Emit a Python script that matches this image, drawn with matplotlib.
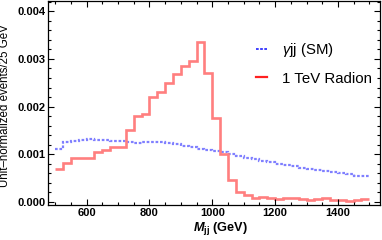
import numpy as np
import matplotlib.pyplot as plt
from matplotlib.lines import Line2D
from matplotlib.ticker import MultipleLocator, FormatStrFormatter

plt.rcParams['font.family'] = ['Liberation Sans', 'DejaVu Sans']
plt.rcParams['mathtext.fontset'] = 'custom'
plt.rcParams['mathtext.rm'] = 'Liberation Sans'
plt.rcParams['mathtext.it'] = 'Liberation Sans:italic'
plt.rcParams['mathtext.bf'] = 'Liberation Sans:bold'
plt.rcParams['mathtext.bfit'] = 'Liberation Sans:italic:bold'

# bin edges, 25 GeV bins from 500 to 1500
edges = np.arange(500, 1501, 25)

# gamma jj (SM) background
sm_vals = [0.00112, 0.00126, 0.00128, 0.00131, 0.00132, 0.00131, 0.00130, 0.00128,
           0.00128, 0.00125, 0.00124, 0.00126, 0.00126, 0.00125, 0.00123, 0.00121,
           0.00118, 0.00115, 0.00112, 0.00110, 0.00107, 0.00104, 0.00100, 0.00097,
           0.00093, 0.00090, 0.00085, 0.00083, 0.00080, 0.00077, 0.00075, 0.00072,
           0.00070, 0.00067, 0.00064, 0.00062, 0.00060, 0.00058, 0.00055, 0.00054]

# 1 TeV radion signal
radion_vals = [0.00070, 0.00081, 0.00093, 0.00092, 0.00092, 0.00105, 0.00110, 0.00116,
               0.00116, 0.00152, 0.00180, 0.00184, 0.00220, 0.00230, 0.00250, 0.00269,
               0.00286, 0.00295, 0.00335, 0.00270, 0.00177, 0.00100, 0.00046, 0.00021,
               0.00015, 0.00009, 0.00011, 0.00008, 0.00006, 0.00008, 0.00008, 0.00006,
               0.00004, 0.00006, 0.00009, 0.00005, 0.00005, 0.00003, 0.00005, 0.00007]

legend_labels = [r'$\gamma$jj (SM)', '1 TeV Radion']

fig = plt.figure(figsize=(3.82, 2.4), dpi=100)
ax = fig.add_axes([48/382, 1 - 205/240, 332/382, 204/240])

ax.stairs(sm_vals, edges, baseline=None, color='#8080ff', lw=1.6,
          linestyle=(0, (1.2, 0.8)))
ax.stairs(radion_vals, edges, baseline=None, color='#ff7f7f', lw=1.9)

ax.set_xlim(477, 1534)
ax.set_ylim(-0.000063, 0.004215)

ax.xaxis.set_major_locator(MultipleLocator(200))
ax.xaxis.set_minor_locator(MultipleLocator(50))
ax.yaxis.set_major_locator(MultipleLocator(0.001))
ax.yaxis.set_minor_locator(MultipleLocator(0.0002))
ax.yaxis.set_major_formatter(FormatStrFormatter('%.3f'))
ax.tick_params(which='both', direction='in', top=True, right=True, width=0.8,
               labelsize=8, pad=2)
ax.tick_params(which='major', length=4)
ax.tick_params(which='minor', length=2)
for lbl in ax.get_xticklabels() + ax.get_yticklabels():
    lbl.set_fontweight('bold')
for sp in ax.spines.values():
    sp.set_linewidth(0.9)

ax.set_xlabel(r'$\mathbfit{M}_{\mathbf{jj}}$ (GeV)', fontsize=9.2, fontweight='bold')
ax.xaxis.set_label_coords(0.521, -0.075)
ax.set_ylabel('Unit\u2013normalized events/25 GeV', fontsize=8.3)
ax.yaxis.set_label_coords(-0.111, 0.485)

handles = [Line2D([], [], color='#3030ff', lw=1.3, linestyle=(0, (1.5, 0.8))),
           Line2D([], [], color='#ff2020', lw=1.6)]
ax.legend(handles, legend_labels, loc='upper left', bbox_to_anchor=(0.627, 0.805),
          frameon=False, fontsize=10.8, handlelength=0.7, handletextpad=1.0,
          labelspacing=0.85, borderpad=0, borderaxespad=0)

fig.savefig('out.png', dpi=100)
